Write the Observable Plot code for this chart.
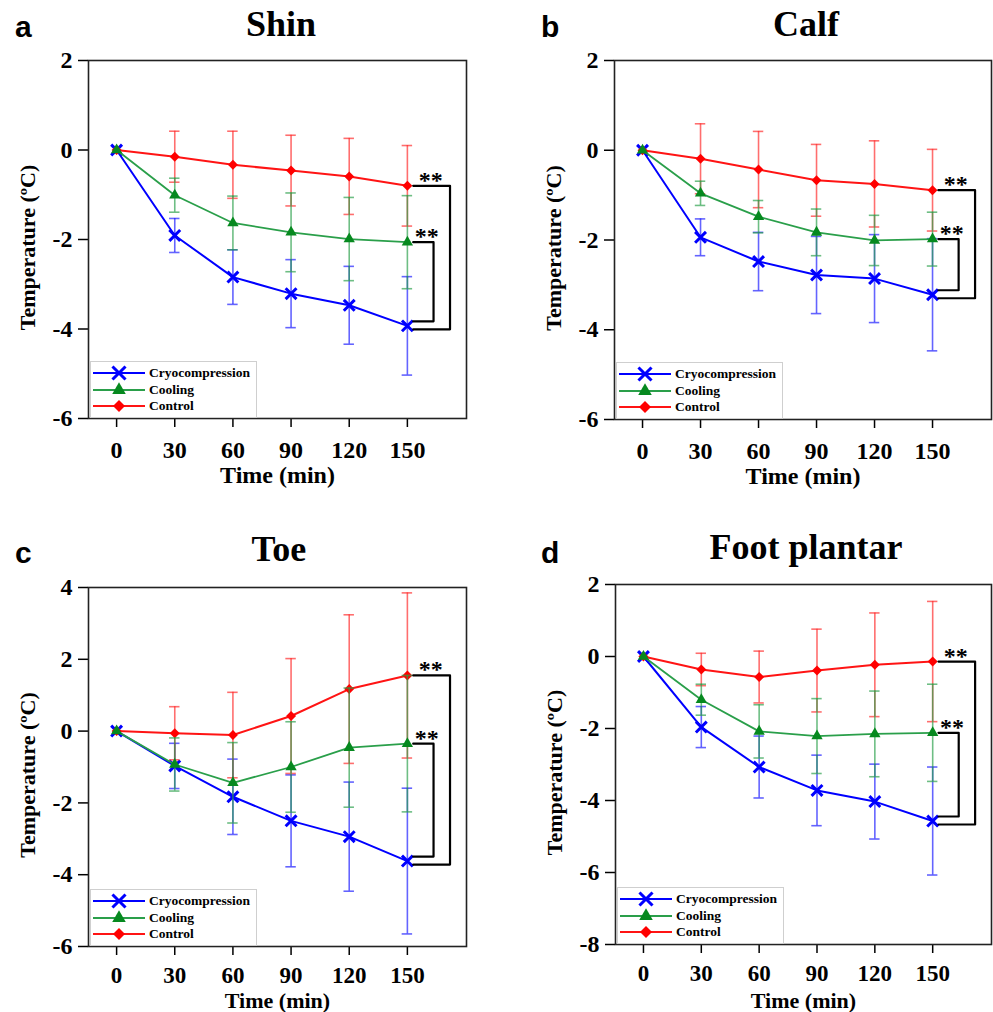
<!DOCTYPE html>
<html><head><meta charset="utf-8">
<script src="https://cdn.jsdelivr.net/npm/d3@7"></script>
<script src="https://cdn.jsdelivr.net/npm/@observablehq/plot@0.6"></script>
<style>
body{margin:0;background:#fff;}
#root{position:relative;width:993px;height:1012px;overflow:hidden;background:#fff;}
.abs{position:absolute;white-space:nowrap;}
.serif{font-family:"Liberation Serif","Times New Roman",serif;font-weight:bold;color:#000;}
.sans{font-family:"Liberation Sans",Arial,sans-serif;font-weight:bold;color:#000;}
.legend{position:absolute;background:#fff;border:1px solid #cfcfcf;box-sizing:border-box;}
.legrow{position:absolute;left:0;height:16px;display:flex;align-items:center;}
.legrow span{font-family:"Liberation Serif","Times New Roman",serif;font-weight:bold;font-size:13.5px;margin-left:4px;}
svg{overflow:visible;}
</style></head>
<body><div id="root"></div>
<script>
// ---------- data ----------
const times = [0, 30, 60, 90, 120, 150];
const seriesNames = ["Cryocompression", "Cooling", "Control"];
const panelLetters = ["a", "b", "c", "d"];
const panelTitles = ["Shin", "Calf", "Toe", "Foot plantar"];
const xLabel = "Time (min)";
const yLabel = "Temperature (\u00baC)";
const sigMark = "**";

const shinYTicks = [-6, -4, -2, 0, 2];
const calfYTicks = [-6, -4, -2, 0, 2];
const toeYTicks = [-6, -4, -2, 0, 2, 4];
const footYTicks = [-8, -6, -4, -2, 0, 2];

const shinCryo = [0, -1.91, -2.84, -3.21, -3.47, -3.93];
const shinCryoSD = [0, 0.38, 0.61, 0.76, 0.87, 1.10];
const shinCool = [0, -1.01, -1.63, -1.84, -1.99, -2.06];
const shinCoolSD = [0, 0.38, 0.60, 0.88, 0.93, 1.04];
const shinCtrl = [0, -0.15, -0.33, -0.46, -0.59, -0.80];
const shinCtrlSD = [0, 0.57, 0.75, 0.79, 0.85, 0.90];

const calfCryo = [0, -1.94, -2.48, -2.78, -2.86, -3.22];
const calfCryoSD = [0, 0.41, 0.65, 0.86, 0.98, 1.25];
const calfCool = [0, -0.96, -1.48, -1.83, -2.01, -1.98];
const calfCoolSD = [0, 0.27, 0.36, 0.52, 0.56, 0.60];
const calfCtrl = [0, -0.19, -0.43, -0.67, -0.75, -0.89];
const calfCtrlSD = [0, 0.78, 0.85, 0.80, 0.96, 0.91];

const toeCryo = [0, -0.97, -1.83, -2.50, -2.94, -3.62];
const toeCryoSD = [0, 0.63, 1.05, 1.28, 1.52, 2.03];
const toeCool = [0, -0.93, -1.44, -1.00, -0.46, -0.35];
const toeCoolSD = [0, 0.74, 1.12, 1.26, 1.66, 1.90];
const toeCtrl = [0, -0.06, -0.11, 0.42, 1.17, 1.55];
const toeCtrlSD = [0, 0.74, 1.19, 1.60, 2.07, 2.30];

const footCryo = [0, -1.96, -3.07, -3.72, -4.03, -4.57];
const footCryoSD = [0, 0.57, 0.86, 0.98, 1.04, 1.50];
const footCool = [0, -1.20, -2.08, -2.21, -2.15, -2.12];
const footCoolSD = [0, 0.43, 0.74, 1.04, 1.19, 1.35];
const footCtrl = [0, -0.36, -0.57, -0.39, -0.23, -0.14];
const footCtrlSD = [0, 0.45, 0.72, 1.15, 1.44, 1.67];

// ---------- styles / layout ----------
const SERIF = "Liberation Serif, Times New Roman, serif";
const styles = {
  Cryocompression: {line: "#0000ff", bar: "#1a1aff", symbol: "times", fill: "none", stroke: "#0000ff", r: 5, sw: 3, lw: 2},
  Cooling: {line: "#2a9f4a", bar: "#2a9f4a", symbol: "triangle", fill: "#06891f", stroke: "none", r: 4.2, sw: 0, lw: 1.8},
  Control: {line: "#ff1414", bar: "#ff2a2a", symbol: "diamond2", fill: "#ff0000", stroke: "none", r: 4.5, sw: 0, lw: 2}
};
const drawOrder = ["Cryocompression", "Control", "Cooling"];

const panels = [
  {vals: [shinCryo, shinCool, shinCtrl], sds: [shinCryoSD, shinCoolSD, shinCtrlSD], yticks: shinYTicks,
   svg: {x: 0, y: 0, w: 496, h: 506}, frame: {L: 88, T: 60, R: 466, B: 418},
   xtick: {fs: 24, pad: 13}, xlab: {fs: 24, dy: 64},
   letter: {x: 15, base: 37}, title: {cx: 281, base: 37}},
  {vals: [calfCryo, calfCool, calfCtrl], sds: [calfCryoSD, calfCoolSD, calfCtrlSD], yticks: calfYTicks,
   svg: {x: 496, y: 0, w: 497, h: 506}, frame: {L: 614, T: 60, R: 991, B: 419},
   xtick: {fs: 24, pad: 13}, xlab: {fs: 24, dy: 64},
   letter: {x: 541, base: 37}, title: {cx: 806, base: 37}},
  {vals: [toeCryo, toeCool, toeCtrl], sds: [toeCryoSD, toeCoolSD, toeCtrlSD], yticks: toeYTicks,
   svg: {x: 0, y: 506, w: 496, h: 506}, frame: {L: 88, T: 587, R: 466, B: 946},
   xtick: {fs: 23, pad: 11}, xlab: {fs: 22, dy: 61},
   letter: {x: 15, base: 563}, title: {cx: 279, base: 562}},
  {vals: [footCryo, footCool, footCtrl], sds: [footCryoSD, footCoolSD, footCtrlSD], yticks: footYTicks,
   svg: {x: 496, y: 506, w: 497, h: 506}, frame: {L: 615, T: 584, R: 991, B: 944},
   xtick: {fs: 23, pad: 11}, xlab: {fs: 22, dy: 63},
   letter: {x: 541, base: 563}, title: {cx: 806, base: 560}}
];

const root = document.getElementById("root");

function addText(txt, cls, fs, x, base, anchor, ascent, lh) {
  const d = document.createElement("div");
  d.className = "abs " + cls;
  d.textContent = txt;
  d.style.fontSize = fs + "px";
  d.style.lineHeight = (lh * fs) + "px";
  d.style.top = (base - ascent * fs) + "px";
  root.appendChild(d);
  if (anchor === "middle") d.style.left = (x - d.offsetWidth / 2) + "px";
  else d.style.left = x + "px";
  return d;
}

function makePanel(p, idx) {
  const W = p.svg.w, H = p.svg.h;
  const mL = p.frame.L - p.svg.x, mR = p.svg.x + W - p.frame.R;
  const mT = p.frame.T - p.svg.y, mB = p.svg.y + H - p.frame.B;
  const ymin = d3.min(p.yticks), ymax = d3.max(p.yticks);
  const pxPerUnit = (p.frame.B - p.frame.T) / (ymax - ymin);
  const capHalf = 2.7;

  const series = {};
  seriesNames.forEach((name, si) => {
    series[name] = times.map((t, i) => ({t, mean: p.vals[si][i], sd: p.sds[si][i], name}));
  });

  const marks = [];
  for (const name of drawOrder) {
    const st = styles[name];
    const recs = series[name];
    const withBar = recs.filter(d => d.sd > 0);
    const barStyle = {stroke: st.bar, strokeWidth: 1.6, strokeOpacity: 0.68};
    marks.push(Plot.ruleX(withBar, {x: "t", y1: d => d.mean - d.sd, y2: d => d.mean + d.sd, ...barStyle}));
    marks.push(Plot.ruleY(withBar, {y: d => d.mean + d.sd, x1: d => d.t - capHalf, x2: d => d.t + capHalf, ...barStyle}));
    marks.push(Plot.ruleY(withBar, {y: d => d.mean - d.sd, x1: d => d.t - capHalf, x2: d => d.t + capHalf, ...barStyle}));
    marks.push(Plot.line(recs, {x: "t", y: "mean", stroke: st.line, strokeWidth: st.lw}));
    marks.push(Plot.dot(recs, {x: "t", y: "mean", symbol: () => st.symbol, r: st.r, fill: st.fill, stroke: st.stroke, strokeWidth: st.sw}));
  }

  // significance brackets built from the final values
  const last = times.length - 1;
  const cryoEnd = series.Cryocompression[last].mean;
  const coolEnd = series.Cooling[last].mean;
  const ctrlEnd = series.Control[last].mean;
  const tEnd = times[last];
  const bx0 = tEnd + 3, bxIn = tEnd + 13.5, bxOut = tEnd + 22;
  const outer = [
    {x: bx0, y: ctrlEnd}, {x: bxOut, y: ctrlEnd},
    {x: bxOut, y: cryoEnd - 3.5 / pxPerUnit}, {x: bx0, y: cryoEnd - 3.5 / pxPerUnit}
  ];
  const inner = [
    {x: bx0, y: coolEnd}, {x: bxIn, y: coolEnd},
    {x: bxIn, y: cryoEnd + 4.5 / pxPerUnit}, {x: bx0, y: cryoEnd + 4.5 / pxPerUnit}
  ];
  marks.push(Plot.line(outer, {x: "x", y: "y", stroke: "#000", strokeWidth: 2.2}));
  marks.push(Plot.line(inner, {x: "x", y: "y", stroke: "#000", strokeWidth: 2.2}));
  marks.push(Plot.text([{x: tEnd + 12, y: ctrlEnd}, {x: tEnd + 10, y: coolEnd}], {
    x: "x", y: "y", text: () => sigMark, fontSize: 24, fontFamily: SERIF, fontWeight: "bold",
    lineAnchor: "bottom", dy: 2, textAnchor: "middle", fill: "#000"
  }));

  marks.push(Plot.axisY({ticks: p.yticks, tickFormat: d => String(d), tickSize: 10, tickPadding: 6,
    fontSize: 24, fontWeight: "bold", fontFamily: SERIF, label: null, strokeWidth: 1.5}));
  marks.push(Plot.axisX({ticks: times, tickFormat: d => String(d), tickSize: 9, tickPadding: p.xtick.pad,
    fontSize: p.xtick.fs, fontWeight: "bold", fontFamily: SERIF, label: null, strokeWidth: 1.5}));
  marks.push(Plot.frame({stroke: "#222", strokeWidth: 1.6}));
  marks.push(Plot.text([xLabel], {frameAnchor: "bottom", text: d => d, lineAnchor: "bottom", textAnchor: "middle",
    dy: p.xlab.dy, fontSize: p.xlab.fs, fontWeight: "bold", fontFamily: SERIF, fill: "#000"}));
  marks.push(Plot.text([yLabel], {frameAnchor: "left", text: d => d, lineAnchor: "bottom", textAnchor: "middle",
    rotate: -90, dx: -54, dy: 8, fontSize: 22, fontWeight: "bold", fontFamily: SERIF, fill: "#000"}));

  const chart = Plot.plot({
    width: W, height: H,
    marginLeft: mL, marginRight: mR, marginTop: mT, marginBottom: mB,
    x: {domain: [-14.5, 180.5]},
    y: {domain: [ymin, ymax]},
    style: {fontFamily: SERIF, color: "#000", background: "transparent", overflow: "visible"},
    marks
  });
  chart.style.position = "absolute";
  chart.style.left = p.svg.x + "px";
  chart.style.top = p.svg.y + "px";
  root.appendChild(chart);

  // legend (inside the frame, bottom-left)
  const lg = document.createElement("div");
  lg.className = "legend";
  lg.style.left = (p.frame.L + 2) + "px";
  lg.style.top = (p.frame.B - 57) + "px";
  lg.style.width = "167px";
  lg.style.height = "57px";
  root.appendChild(lg);
  seriesNames.forEach((name, i) => {
    const st = styles[name];
    const row = document.createElement("div");
    row.className = "legrow";
    row.style.top = (3 + i * 16.5) + "px";
    row.style.left = "2px";
    const ns = "http://www.w3.org/2000/svg";
    const s = document.createElementNS(ns, "svg");
    s.setAttribute("width", 52); s.setAttribute("height", 16);
    const ln = document.createElementNS(ns, "line");
    ln.setAttribute("x1", 0); ln.setAttribute("x2", 52); ln.setAttribute("y1", 8); ln.setAttribute("y2", 8);
    ln.setAttribute("stroke", st.line); ln.setAttribute("stroke-width", 2);
    s.appendChild(ln);
    const symMap = {times: d3.symbolTimes, triangle: d3.symbolTriangle, diamond2: d3.symbolDiamond2};
    const pth = document.createElementNS(ns, "path");
    const rr = st.r * 1.2;
    pth.setAttribute("d", d3.symbol(symMap[st.symbol], Math.PI * rr * rr)());
    pth.setAttribute("transform", "translate(26,8)");
    pth.setAttribute("fill", st.fill);
    pth.setAttribute("stroke", st.stroke);
    pth.setAttribute("stroke-width", st.sw);
    s.appendChild(pth);
    row.appendChild(s);
    const sp = document.createElement("span");
    sp.textContent = name;
    row.appendChild(sp);
    lg.appendChild(row);
  });

  addText(panelLetters[idx], "sans", 30, p.letter.x, p.letter.base, "left", 0.905, 1.117);
  addText(panelTitles[idx], "serif", 36, p.title.cx, p.title.base, "middle", 0.891, 1.107);
}

panels.forEach(makePanel);
</script>
</body></html>
